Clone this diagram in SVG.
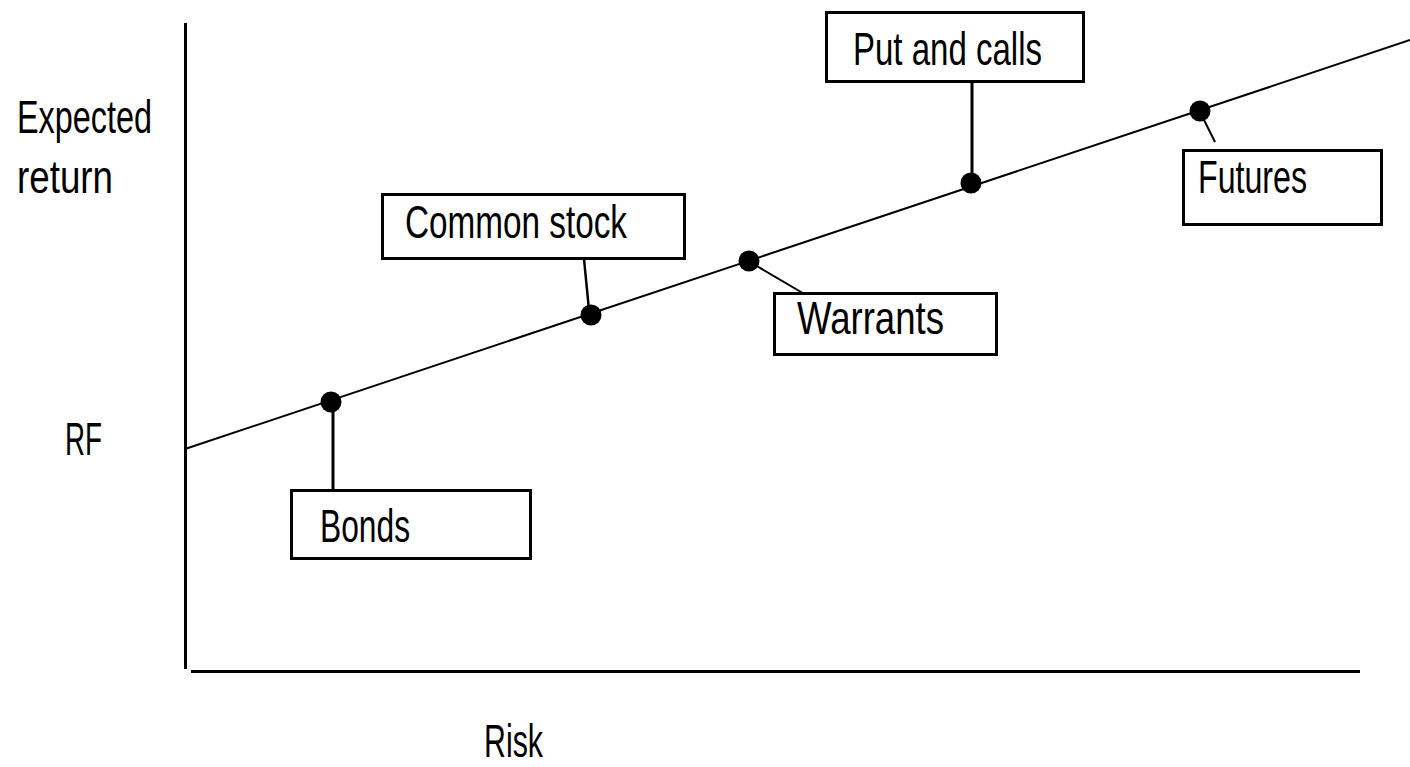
<svg xmlns="http://www.w3.org/2000/svg" width="1410" height="767" viewBox="0 0 1410 767">
  <style>
    .lbl { font-family: "Liberation Sans Narrow", "Liberation Sans", "DejaVu Sans Condensed", sans-serif; font-size: 46px; fill: #000; }
    .box { fill: #fff; stroke: #000; stroke-width: 3; }
    .axis { stroke: #000; stroke-width: 3; fill: none; }
    .sml { stroke: #000; stroke-width: 2; fill: none; }
    .lead { stroke: #000; fill: none; }
    .dot { fill: #000; }
  </style>
  <rect width="1410" height="767" fill="#fff"/>

  <!-- axes and axis titles -->
  <g id="axes">
    <line class="axis" x1="185.5" y1="23" x2="185.5" y2="669"/>
    <line class="axis" x1="191" y1="671.5" x2="1360" y2="671.5"/>
    <text class="lbl" x="17" y="133" textLength="135" lengthAdjust="spacingAndGlyphs">Expected</text>
    <text class="lbl" x="17" y="193" textLength="96" lengthAdjust="spacingAndGlyphs">return</text>
    <text class="lbl" x="65" y="455" textLength="37" lengthAdjust="spacingAndGlyphs">RF</text>
    <text class="lbl" x="484" y="757" font-size="44" textLength="59" lengthAdjust="spacingAndGlyphs">Risk</text>
  </g>

  <!-- security market line -->
  <g id="sml">
    <line class="sml" x1="185" y1="449" x2="1410" y2="40"/>
  </g>

  <!-- leader lines from each point to its label -->
  <g id="connectors">
    <line class="lead" stroke-width="3" x1="333" y1="404" x2="333" y2="500"/>
    <line class="lead" stroke-width="2.5" x1="584" y1="259" x2="589" y2="310"/>
    <line class="lead" stroke-width="2" x1="750" y1="262" x2="818" y2="302"/>
    <line class="lead" stroke-width="3" x1="972" y1="82" x2="972" y2="183"/>
    <line class="lead" stroke-width="2" x1="1201" y1="114" x2="1215" y2="142"/>
  </g>

  <g id="bonds">
    <circle class="dot" cx="331" cy="402" r="10.5"/>
    <rect class="box" x="291.5" y="490.5" width="239" height="68"/>
    <text class="lbl" x="320" y="542" textLength="90" lengthAdjust="spacingAndGlyphs">Bonds</text>
  </g>

  <g id="common-stock">
    <circle class="dot" cx="591" cy="315" r="10.5"/>
    <rect class="box" x="382.5" y="194.5" width="302" height="64"/>
    <text class="lbl" x="405" y="238" textLength="222" lengthAdjust="spacingAndGlyphs">Common stock</text>
  </g>

  <g id="warrants">
    <circle class="dot" cx="749" cy="261" r="10.5"/>
    <rect class="box" x="774.5" y="293.5" width="222" height="61"/>
    <text class="lbl" x="797" y="334" textLength="147" lengthAdjust="spacingAndGlyphs">Warrants</text>
  </g>

  <g id="puts-and-calls">
    <circle class="dot" cx="971" cy="183" r="10.5"/>
    <rect class="box" x="826.5" y="12.5" width="257" height="69"/>
    <text class="lbl" x="853" y="65" textLength="189" lengthAdjust="spacingAndGlyphs">Put and calls</text>
  </g>

  <g id="futures">
    <circle class="dot" cx="1200" cy="111" r="10.5"/>
    <rect class="box" x="1183.5" y="150.5" width="198" height="74"/>
    <text class="lbl" x="1198" y="193" textLength="109" lengthAdjust="spacingAndGlyphs">Futures</text>
  </g>
</svg>
